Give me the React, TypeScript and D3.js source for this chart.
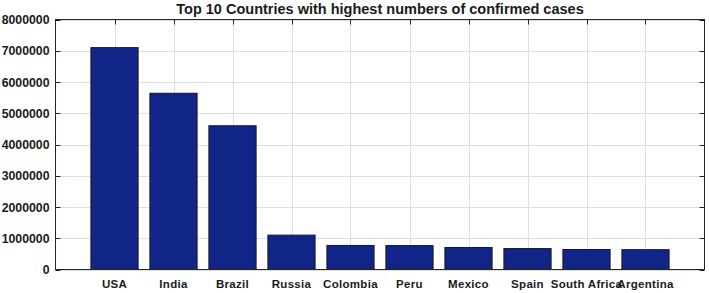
import React from "react";
import * as d3 from "d3";

const countries = ["USA", "India", "Brazil", "Russia", "Colombia", "Peru", "Mexico", "Spain", "South Africa", "Argentina"];
const cases = [7100000, 5640000, 4600000, 1100000, 770000, 765000, 705000, 670000, 640000, 635000];
const yTicks = [0, 1000000, 2000000, 3000000, 4000000, 5000000, 6000000, 7000000, 8000000];
const title = "Top 10 Countries with highest numbers of confirmed cases";

const W = 709, H = 293;
const L = 55.5, R = 704.5, T = 19.5, B = 269.5;

export default function App() {
  const x = d3.scaleLinear().domain([0, countries.length + 1]).range([L, R]);
  const y = d3.scaleLinear().domain([0, 8000000]).range([B, T]);
  const bw = (x(1) - x(0)) * 0.8;
  const font = "Liberation Sans, Arial, sans-serif";
  const axisColor = "#262626";
  return (
    <svg width={W} height={H} style={{ position: "absolute", left: 0, top: 0, background: "#fff" }}>
      <rect x={0} y={0} width={W} height={H} fill="#fff" />
      {countries.map((c, i) => (
        <line key={"gx" + c} x1={Math.round(x(i + 1)) + 0.5} x2={Math.round(x(i + 1)) + 0.5} y1={T} y2={B} stroke="#dedede" strokeWidth={1} />
      ))}
      {yTicks.map((t) => (
        <line key={"gy" + t} x1={L} x2={R} y1={Math.round(y(t)) + 0.5} y2={Math.round(y(t)) + 0.5} stroke="#dedede" strokeWidth={1} />
      ))}
      {cases.map((v, i) => (
        <rect key={countries[i]} x={x(i + 1) - bw / 2} y={y(v)} width={bw} height={B - y(v)} fill="#112488" stroke="#1a1a1a" strokeWidth={1} />
      ))}
      {countries.map((c, i) => (
        <g key={"tx" + c}>
          <line x1={Math.round(x(i + 1)) + 0.5} x2={Math.round(x(i + 1)) + 0.5} y1={T} y2={T + 5} stroke={axisColor} />
          <line x1={Math.round(x(i + 1)) + 0.5} x2={Math.round(x(i + 1)) + 0.5} y1={B} y2={B - 5} stroke={axisColor} />
        </g>
      ))}
      {yTicks.map((t) => (
        <g key={"ty" + t}>
          <line x1={L} x2={L + 5} y1={Math.round(y(t)) + 0.5} y2={Math.round(y(t)) + 0.5} stroke={axisColor} />
          <line x1={R} x2={R - 5} y1={Math.round(y(t)) + 0.5} y2={Math.round(y(t)) + 0.5} stroke={axisColor} />
        </g>
      ))}
      <rect x={L} y={T} width={R - L} height={B - T} fill="none" stroke={axisColor} strokeWidth={1} />
      {yTicks.map((t) => (
        <text key={"yl" + t} x={L - 6} y={y(t) + 4.5} textAnchor="end" fontFamily={font} fontSize={12.3} fontWeight="bold" fill="#1a1a1a">
          {String(t)}
        </text>
      ))}
      {countries.map((c, i) => (
        <text key={"xl" + c} x={x(i + 1)} y={288} textAnchor="middle" fontFamily={font} fontSize={11.5} fontWeight="bold" fill="#1a1a1a" letterSpacing={0.3}>
          {c}
        </text>
      ))}
      <text x={(L + R) / 2} y={14} textAnchor="middle" fontFamily={font} fontSize={14.5} fontWeight="bold" fill="#1a1a1a">
        {title}
      </text>
    </svg>
  );
}
